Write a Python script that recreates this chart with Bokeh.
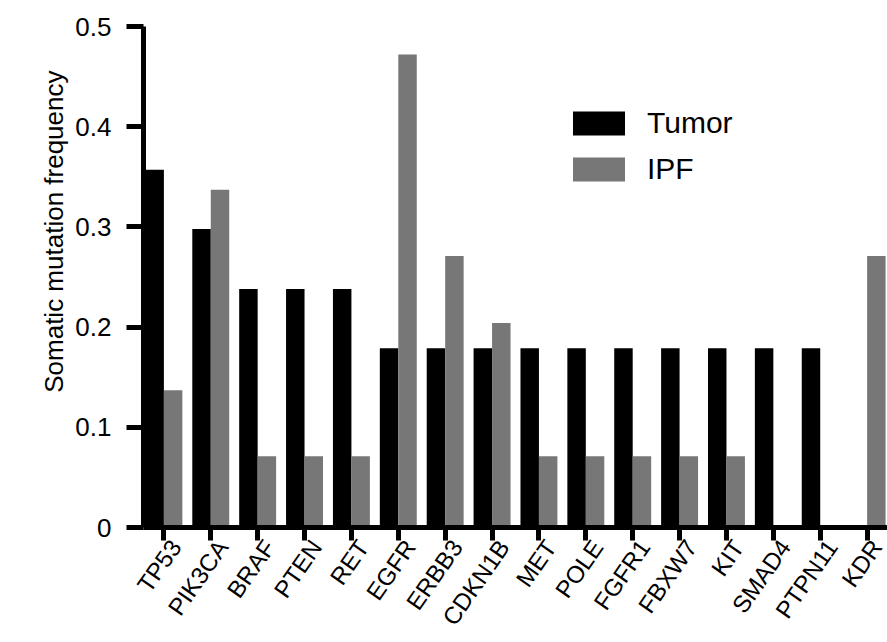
import math
from bokeh.plotting import figure
from bokeh.models import (ColumnDataSource, Range1d, FixedTicker, Legend, LinearAxis, Title)
from bokeh.transform import dodge
from bokeh.embed import file_html
from bokeh.resources import INLINE

genes = ["TP53", "PIK3CA", "BRAF", "PTEN", "RET", "EGFR", "ERBB3", "CDKN1B",
         "MET", "POLE", "FGFR1", "FBXW7", "KIT", "SMAD4", "PTPN11", "KDR"]
tumor = [0.357, 0.298, 0.238, 0.238, 0.238, 0.179, 0.179, 0.179,
         0.179, 0.179, 0.179, 0.179, 0.179, 0.179, 0.179, 0.0]
ipf = [0.137, 0.337, 0.071, 0.071, 0.071, 0.472, 0.271, 0.204,
       0.071, 0.071, 0.071, 0.071, 0.071, 0.0, 0.0, 0.271]
y_ticks = [0, 0.1, 0.2, 0.3, 0.4, 0.5]
y_tick_labels = ["0", "0.1", "0.2", "0.3", "0.4", "0.5"]
y_title = "Somatic mutation frequency"

FONT = "Liberation Sans"
PAD = -0.13          # category padding of the x range (in category widths)
LABEL_SHIFT = 0.25   # rightward shift (in categories) of the rotated gene labels

n = len(genes)
pos = [i + 0.5 for i in range(n)]   # category centres
src = ColumnDataSource(dict(gene=genes, pos=pos, tumor=tumor, ipf=ipf))

p = figure(width=887, height=642, output_backend="svg", toolbar_location=None,
           x_range=Range1d(-PAD / 2, n + PAD / 2), y_range=Range1d(0, 0.5),
           min_border_left=143, min_border_right=0, min_border_top=26, min_border_bottom=115)
p.outline_line_color = None
p.xgrid.grid_line_color = None
p.ygrid.grid_line_color = None
p.background_fill_color = "white"
p.border_fill_color = "white"

r1 = p.vbar(x=dodge("pos", -0.197), top="tumor", width=0.394, source=src,
            fill_color="black", line_color=None)
r2 = p.vbar(x=dodge("pos", 0.197), top="ipf", width=0.394, source=src,
            fill_color="#777777", line_color=None)

# y axis
ya = p.yaxis[0]
ya.ticker = FixedTicker(ticks=y_ticks, minor_ticks=[])
ya.major_label_overrides = {t: l for t, l in zip(y_ticks, y_tick_labels)}
ya.axis_line_width = 5
ya.major_tick_line_width = 5
ya.major_tick_out = 17
ya.major_tick_in = 0
ya.minor_tick_line_color = None
ya.major_label_text_font = FONT
ya.major_label_text_font_size = "26px"
ya.major_label_text_color = "black"
ya.major_label_standoff = 15
ya.axis_line_color = "black"
ya.major_tick_line_color = "black"

p.add_layout(Title(text=y_title, align="right", offset=44, standoff=7,
                   text_font=FONT, text_font_size="26px", text_font_style="normal",
                   text_color="black"), "left")

# x axis: line and tick marks only
xa = p.xaxis[0]
xa.ticker = FixedTicker(ticks=pos, minor_ticks=[])
xa.major_label_overrides = {c: "" for c in pos}
xa.axis_line_width = 5
xa.major_tick_line_width = 5
xa.major_tick_out = 13
xa.major_tick_in = 0
xa.minor_tick_line_color = None
xa.major_label_text_color = None
xa.major_label_text_font_size = "0px"
xa.major_label_standoff = 0
xa.axis_line_color = "black"
xa.major_tick_line_color = "black"

# second axis carrying the rotated gene labels, slightly shifted right
p.extra_x_ranges = {"labels": Range1d(-PAD / 2 - LABEL_SHIFT, n + PAD / 2 - LABEL_SHIFT)}
la = LinearAxis(x_range_name="labels", ticker=FixedTicker(ticks=pos, minor_ticks=[]),
                major_label_overrides={c: g for c, g in zip(pos, genes)},
                axis_line_color=None, major_tick_line_color=None, minor_tick_line_color=None,
                major_tick_out=0, major_tick_in=0, major_label_standoff=2,
                major_label_orientation=math.radians(55),
                major_label_text_font=FONT, major_label_text_font_size="24px",
                major_label_text_color="black")
p.add_layout(la, "below")

legend = Legend(items=[("Tumor", [r1]), ("IPF", [r2])], location=(423, 341),
                glyph_width=65, glyph_height=30, label_standoff=16, spacing=12,
                padding=0, margin=0, border_line_color=None, background_fill_alpha=0,
                label_text_font=FONT, label_text_font_size="30px", label_text_color="black")
p.add_layout(legend)

open("out.html", "w").write(file_html(p, INLINE))
